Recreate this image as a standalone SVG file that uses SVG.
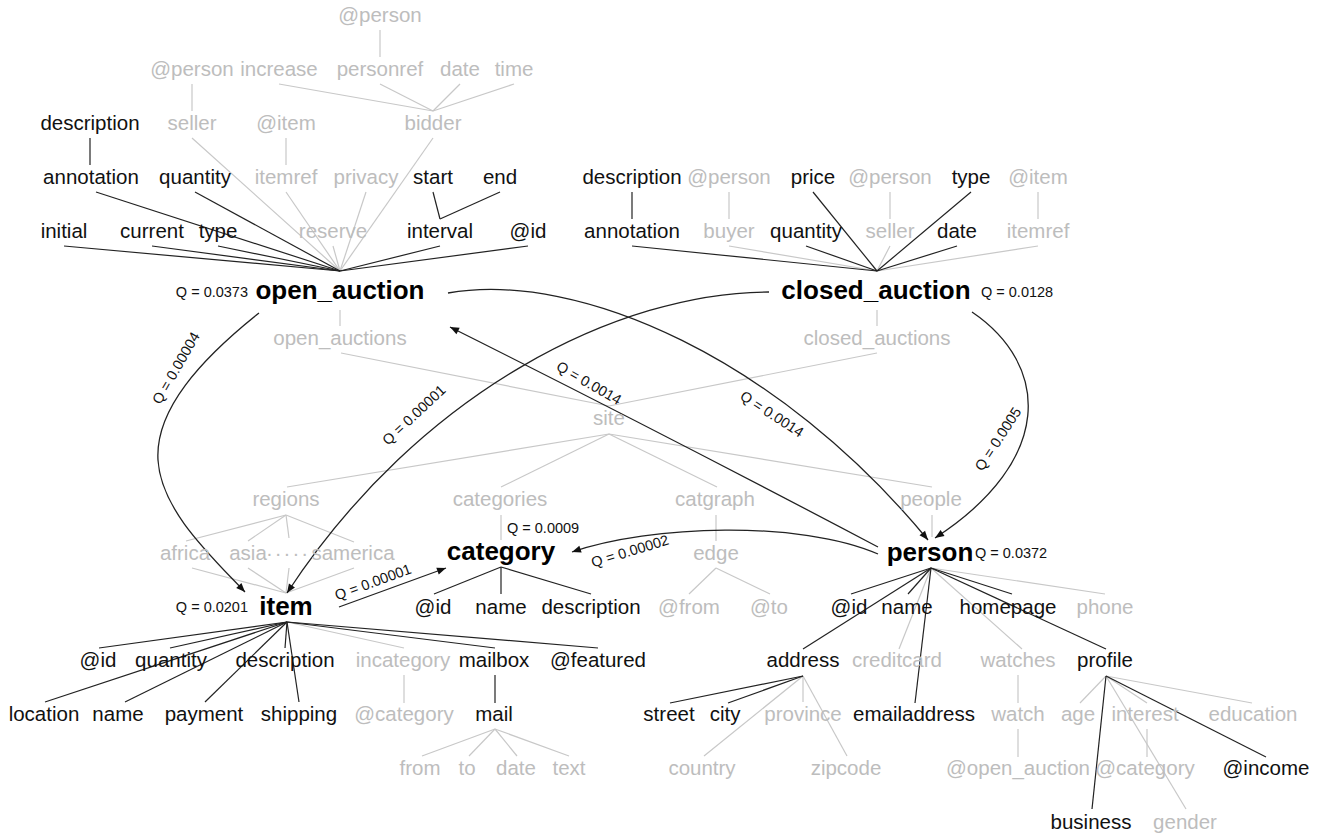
<svg xmlns="http://www.w3.org/2000/svg" width="1328" height="836" viewBox="0 0 1328 836">
<defs>
<style>
text{font-family:"Liberation Sans",Arial,sans-serif;text-anchor:middle}
.b{font-size:20.5px;fill:#111}
.g{font-size:20.5px;fill:#bdbdbd}
.big{font-size:26px;font-weight:bold;fill:#000}
.q{font-size:14.5px;fill:#111}
.ql{text-anchor:start}
.qr{text-anchor:end}
.eb{stroke:#222;stroke-width:1.2;fill:none}
.eg{stroke:#c8c8c8;stroke-width:1.2;fill:none}
.arc{stroke:#222;stroke-width:1.3;fill:none;marker-end:url(#ah)}
</style>
<marker id="ah" viewBox="0 0 10 10" refX="10" refY="5" markerWidth="11" markerHeight="9" markerUnits="userSpaceOnUse" orient="auto"><path d="M0,1 L10,5 L0,9 z" fill="#111"/></marker>
</defs>
<rect width="1328" height="836" fill="#fff"/>

<g id="connectors">
<g id="tree-gray" class="eg">
<line x1="380" y1="30" x2="380" y2="57"/>
<line x1="192" y1="84" x2="192" y2="111"/>
<line x1="279" y1="84" x2="433" y2="111"/>
<line x1="380" y1="84" x2="433" y2="111"/>
<line x1="460" y1="84" x2="433" y2="111"/>
<line x1="514" y1="84" x2="433" y2="111"/>
<line x1="286" y1="138" x2="286" y2="165"/>
<line x1="192" y1="138" x2="340" y2="271"/>
<line x1="286" y1="192" x2="340" y2="271"/>
<line x1="366" y1="192" x2="340" y2="271"/>
<line x1="433" y1="138" x2="340" y2="271"/>
<line x1="333" y1="246" x2="340" y2="271"/>
<line x1="729" y1="192" x2="729" y2="219"/>
<line x1="890" y1="192" x2="890" y2="219"/>
<line x1="1038" y1="192" x2="1038" y2="219"/>
<line x1="729" y1="246" x2="877" y2="271"/>
<line x1="890" y1="246" x2="877" y2="271"/>
<line x1="1038" y1="246" x2="877" y2="271"/>
<line x1="340" y1="310" x2="340" y2="326"/>
<line x1="877" y1="310" x2="877" y2="326"/>
<line x1="341" y1="353" x2="609" y2="406"/>
<line x1="877" y1="353" x2="609" y2="406"/>
<line x1="609" y1="434" x2="287" y2="487"/>
<line x1="609" y1="434" x2="501" y2="487"/>
<line x1="609" y1="434" x2="717" y2="487"/>
<line x1="609" y1="434" x2="932" y2="487"/>
<line x1="286" y1="515" x2="186" y2="541"/>
<line x1="286" y1="515" x2="248" y2="541"/>
<line x1="286" y1="515" x2="289" y2="538"/>
<line x1="286" y1="515" x2="354" y2="542"/>
<line x1="501" y1="515" x2="501" y2="540"/>
<line x1="716" y1="515" x2="716" y2="541"/>
<line x1="932" y1="515" x2="932" y2="537"/>
<line x1="716" y1="568" x2="689" y2="594"/>
<line x1="716" y1="568" x2="770" y2="594"/>
<line x1="192" y1="568" x2="286" y2="593"/>
<line x1="248" y1="568" x2="286" y2="593"/>
<line x1="289" y1="568" x2="286" y2="593"/>
<line x1="354" y1="568" x2="286" y2="593"/>
<line x1="287" y1="622" x2="404" y2="648"/>
<line x1="404" y1="675" x2="404" y2="703"/>
<line x1="495" y1="729" x2="422" y2="756"/>
<line x1="495" y1="729" x2="469" y2="756"/>
<line x1="495" y1="729" x2="517" y2="756"/>
<line x1="495" y1="729" x2="569" y2="756"/>
<line x1="931" y1="568" x2="1105" y2="594"/>
<line x1="931" y1="568" x2="899" y2="649"/>
<line x1="931" y1="568" x2="1022" y2="649"/>
<line x1="803" y1="676" x2="803" y2="702"/>
<line x1="803" y1="676" x2="704" y2="756"/>
<line x1="803" y1="676" x2="847" y2="756"/>
<line x1="1018" y1="675" x2="1018" y2="703"/>
<line x1="1018" y1="729" x2="1018" y2="757"/>
<line x1="1106" y1="676" x2="1080" y2="703"/>
<line x1="1106" y1="676" x2="1147" y2="703"/>
<line x1="1106" y1="676" x2="1252" y2="703"/>
<line x1="1106" y1="676" x2="1186" y2="809"/>
<line x1="1147" y1="729" x2="1147" y2="757"/>
</g>
<g id="tree-black" class="eb">
<line x1="90" y1="138" x2="90" y2="165"/>
<line x1="433" y1="192" x2="440" y2="219"/>
<line x1="500" y1="192" x2="440" y2="219"/>
<line x1="64" y1="246" x2="340" y2="271"/>
<line x1="152" y1="246" x2="340" y2="271"/>
<line x1="218" y1="246" x2="340" y2="271"/>
<line x1="96" y1="192" x2="340" y2="271"/>
<line x1="195" y1="192" x2="340" y2="271"/>
<line x1="440" y1="246" x2="340" y2="271"/>
<line x1="528" y1="246" x2="340" y2="271"/>
<line x1="632" y1="192" x2="632" y2="219"/>
<line x1="632" y1="246" x2="877" y2="271"/>
<line x1="806" y1="246" x2="877" y2="271"/>
<line x1="813" y1="192" x2="877" y2="271"/>
<line x1="971" y1="192" x2="877" y2="271"/>
<line x1="957" y1="246" x2="877" y2="271"/>
<line x1="501" y1="567" x2="434" y2="594"/>
<line x1="501" y1="567" x2="501" y2="594"/>
<line x1="501" y1="567" x2="591" y2="594"/>
<line x1="287" y1="622" x2="99" y2="648"/>
<line x1="287" y1="622" x2="170" y2="648"/>
<line x1="287" y1="622" x2="285" y2="648"/>
<line x1="287" y1="622" x2="495" y2="648"/>
<line x1="287" y1="622" x2="598" y2="648"/>
<line x1="287" y1="622" x2="45" y2="702"/>
<line x1="287" y1="622" x2="125" y2="702"/>
<line x1="287" y1="622" x2="205" y2="702"/>
<line x1="287" y1="622" x2="299" y2="702"/>
<line x1="495" y1="675" x2="495" y2="703"/>
<line x1="931" y1="568" x2="851" y2="594"/>
<line x1="931" y1="568" x2="908" y2="594"/>
<line x1="931" y1="568" x2="1012" y2="594"/>
<line x1="931" y1="568" x2="803" y2="649"/>
<line x1="931" y1="568" x2="1106" y2="649"/>
<line x1="931" y1="568" x2="915" y2="703"/>
<line x1="803" y1="676" x2="670" y2="703"/>
<line x1="803" y1="676" x2="728" y2="703"/>
<line x1="1106" y1="676" x2="1092" y2="809"/>
<line x1="1106" y1="676" x2="1266" y2="757"/>
</g>
<g id="arcs">
<path class="arc" d="M259,313 C200,360 155,410 158,460 C161,510 210,555 245,592"/>
<path class="arc" d="M769,292 C620,292 420,390 287,593"/>
<path class="arc" d="M972,312 C1050,365 1055,460 935,538"/>
<path class="arc" d="M448,293 C580,270 780,360 928,540"/>
<path class="arc" d="M878,547 Q660,432 450,327"/>
<path class="arc" d="M878,554 C800,520 650,525 572,552"/>
<path class="arc" d="M339,607 L446,568"/>
</g>
<g id="arc-labels">
<text class="q" transform="translate(176,368) rotate(-60)" y="5">Q = 0.00004</text>
<text class="q" transform="translate(414,415) rotate(-43)" y="5">Q = 0.00001</text>
<text class="q" transform="translate(998,439) rotate(-57)" y="5">Q = 0.0005</text>
<text class="q" transform="translate(772,414) rotate(33)" y="5">Q = 0.0014</text>
<text class="q" transform="translate(589,383) rotate(30)" y="5">Q = 0.0014</text>
<text class="q" transform="translate(630,551) rotate(-17)" y="5">Q = 0.00002</text>
<text class="q" transform="translate(373,582) rotate(-20)" y="5">Q = 0.00001</text>
</g>
</g>

<g id="oa_person1"><text class="g" x="380" y="22">@person</text></g>
<g id="oa_person2"><text class="g" x="192" y="76">@person</text></g>
<g id="oa_increase"><text class="g" x="279" y="76">increase</text></g>
<g id="oa_personref"><text class="g" x="380" y="76">personref</text></g>
<g id="oa_bdate"><text class="g" x="460" y="76">date</text></g>
<g id="oa_time"><text class="g" x="514" y="76">time</text></g>
<g id="oa_description"><text class="b" x="90" y="130">description</text></g>
<g id="oa_seller"><text class="g" x="192" y="130">seller</text></g>
<g id="oa_atitem"><text class="g" x="286" y="130">@item</text></g>
<g id="oa_bidder"><text class="g" x="433" y="130">bidder</text></g>
<g id="oa_annotation"><text class="b" x="91" y="184">annotation</text></g>
<g id="oa_quantity"><text class="b" x="195" y="184">quantity</text></g>
<g id="oa_itemref"><text class="g" x="286" y="184">itemref</text></g>
<g id="oa_privacy"><text class="g" x="366" y="184">privacy</text></g>
<g id="oa_start"><text class="b" x="433" y="184">start</text></g>
<g id="oa_end"><text class="b" x="500" y="184">end</text></g>
<g id="oa_initial"><text class="b" x="64" y="238">initial</text></g>
<g id="oa_current"><text class="b" x="152" y="238">current</text></g>
<g id="oa_type"><text class="b" x="218" y="238">type</text></g>
<g id="oa_reserve"><text class="g" x="333" y="238">reserve</text></g>
<g id="oa_interval"><text class="b" x="440" y="238">interval</text></g>
<g id="oa_id"><text class="b" x="528" y="238">@id</text></g>
<g id="open_auction"><text class="big" x="340" y="299">open_auction</text><text class="q qr" x="248" y="297">Q = 0.0373</text></g>

<g id="ca_description"><text class="b" x="632" y="184">description</text></g>
<g id="ca_person1"><text class="g" x="729" y="184">@person</text></g>
<g id="ca_price"><text class="b" x="813" y="184">price</text></g>
<g id="ca_person2"><text class="g" x="890" y="184">@person</text></g>
<g id="ca_type"><text class="b" x="971" y="184">type</text></g>
<g id="ca_atitem"><text class="g" x="1038" y="184">@item</text></g>
<g id="ca_annotation"><text class="b" x="632" y="238">annotation</text></g>
<g id="ca_buyer"><text class="g" x="729" y="238">buyer</text></g>
<g id="ca_quantity"><text class="b" x="806" y="238">quantity</text></g>
<g id="ca_seller"><text class="g" x="890" y="238">seller</text></g>
<g id="ca_date"><text class="b" x="957" y="238">date</text></g>
<g id="ca_itemref"><text class="g" x="1038" y="238">itemref</text></g>
<g id="closed_auction"><text class="big" x="876" y="299">closed_auction</text><text class="q ql" x="981" y="297">Q = 0.0128</text></g>

<g id="open_auctions"><text class="g" x="340" y="345">open_auctions</text></g>
<g id="closed_auctions"><text class="g" x="877" y="345">closed_auctions</text></g>
<g id="site"><text class="g" x="609" y="425">site</text></g>
<g id="regions"><text class="g" x="286" y="506">regions</text></g>
<g id="categories"><text class="g" x="500" y="506">categories</text></g>
<g id="catgraph"><text class="g" x="715" y="506">catgraph</text></g>
<g id="people"><text class="g" x="931" y="506">people</text></g>
<g id="africa"><text class="g" x="185" y="560">africa</text></g>
<g id="asia"><text class="g" x="248" y="560">asia</text></g>
<g id="more_regions"><text class="g" x="288" y="560" letter-spacing="2">·····</text></g>
<g id="samerica"><text class="g" x="353" y="560">samerica</text></g>
<g id="edge"><text class="g" x="716" y="560">edge</text></g>
<g id="e_from"><text class="g" x="689" y="614">@from</text></g>
<g id="e_to"><text class="g" x="769" y="614">@to</text></g>

<g id="category"><text class="big" x="501" y="560">category</text><text class="q ql" x="507" y="533">Q = 0.0009</text></g>
<g id="c_id"><text class="b" x="433" y="614">@id</text></g>
<g id="c_name"><text class="b" x="501" y="614">name</text></g>
<g id="c_description"><text class="b" x="591" y="614">description</text></g>

<g id="item"><text class="big" x="286" y="615">item</text><text class="q qr" x="248" y="612">Q = 0.0201</text></g>
<g id="i_id"><text class="b" x="98" y="667">@id</text></g>
<g id="i_quantity"><text class="b" x="171" y="667">quantity</text></g>
<g id="i_description"><text class="b" x="285" y="667">description</text></g>
<g id="i_incategory"><text class="g" x="403" y="667">incategory</text></g>
<g id="i_mailbox"><text class="b" x="494" y="667">mailbox</text></g>
<g id="i_featured"><text class="b" x="598" y="667">@featured</text></g>
<g id="i_location"><text class="b" x="44" y="721">location</text></g>
<g id="i_name"><text class="b" x="118" y="721">name</text></g>
<g id="i_payment"><text class="b" x="204" y="721">payment</text></g>
<g id="i_shipping"><text class="b" x="299" y="721">shipping</text></g>
<g id="i_category"><text class="g" x="404" y="721">@category</text></g>
<g id="i_mail"><text class="b" x="494" y="721">mail</text></g>
<g id="m_from"><text class="g" x="420" y="775">from</text></g>
<g id="m_to"><text class="g" x="467" y="775">to</text></g>
<g id="m_date"><text class="g" x="516" y="775">date</text></g>
<g id="m_text"><text class="g" x="569" y="775">text</text></g>

<g id="person"><text class="big" x="930" y="561">person</text><text class="q ql" x="975" y="558">Q = 0.0372</text></g>
<g id="p_id"><text class="b" x="849" y="614">@id</text></g>
<g id="p_name"><text class="b" x="907" y="614">name</text></g>
<g id="p_homepage"><text class="b" x="1008" y="614">homepage</text></g>
<g id="p_phone"><text class="g" x="1105" y="614">phone</text></g>
<g id="p_address"><text class="b" x="803" y="667">address</text></g>
<g id="p_creditcard"><text class="g" x="897" y="667">creditcard</text></g>
<g id="p_watches"><text class="g" x="1018" y="667">watches</text></g>
<g id="p_profile"><text class="b" x="1105" y="667">profile</text></g>
<g id="p_street"><text class="b" x="669" y="721">street</text></g>
<g id="p_city"><text class="b" x="725" y="721">city</text></g>
<g id="p_province"><text class="g" x="803" y="721">province</text></g>
<g id="p_emailaddress"><text class="b" x="914" y="721">emailaddress</text></g>
<g id="p_watch"><text class="g" x="1018" y="721">watch</text></g>
<g id="p_age"><text class="g" x="1078" y="721">age</text></g>
<g id="p_interest"><text class="g" x="1145" y="721">interest</text></g>
<g id="p_education"><text class="g" x="1253" y="721">education</text></g>
<g id="p_country"><text class="g" x="702" y="775">country</text></g>
<g id="p_zipcode"><text class="g" x="846" y="775">zipcode</text></g>
<g id="p_open_auction"><text class="g" x="1018" y="775">@open_auction</text></g>
<g id="p_category"><text class="g" x="1145" y="775">@category</text></g>
<g id="p_income"><text class="b" x="1266" y="775">@income</text></g>
<g id="p_business"><text class="b" x="1091" y="829">business</text></g>
<g id="p_gender"><text class="g" x="1185" y="829">gender</text></g>
</svg>
